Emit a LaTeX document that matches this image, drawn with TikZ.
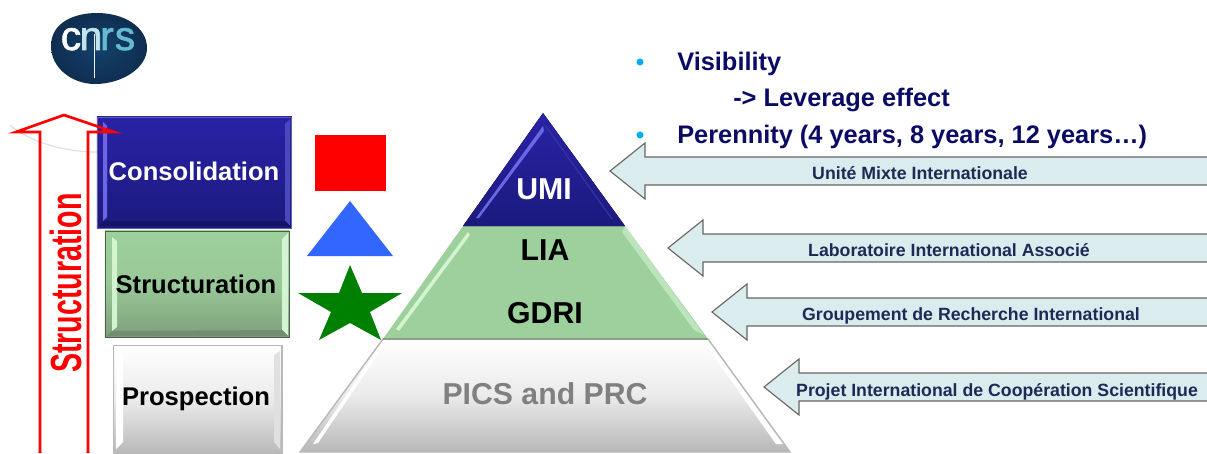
\documentclass[tikz,border=0pt]{standalone}
\usepackage{fontspec}
\setmainfont{Liberation Sans}
\newfontfamily\logofont[FakeBold=1.5]{Liberation Sans}
\usepackage{xcolor}
\usetikzlibrary{calc}
\definecolor{umiblue}{HTML}{2A22A6}
\definecolor{umidark}{HTML}{1B1A7E}
\definecolor{umilight}{HTML}{6A66E6}
\definecolor{liagreen}{HTML}{9DD09C}
\definecolor{liadark}{HTML}{7F9E7C}
\definecolor{lialight}{HTML}{D2F4D0}
\definecolor{picsgrey}{HTML}{B8B8B8}
\definecolor{pale}{HTML}{DAECEE}
\definecolor{navy}{HTML}{0B0B66}
\definecolor{slate}{HTML}{1E2A55}
\definecolor{bulletblue}{HTML}{00AEEF}
\definecolor{logoblue}{HTML}{14406B}
\definecolor{logodark}{HTML}{0F2E50}
\definecolor{logoteal}{HTML}{63BBD0}
\definecolor{trianglecol}{HTML}{3366FF}
\definecolor{starcol}{HTML}{008000}
\tikzset{
  bluebox/.style={draw=umidark!70!white,line width=0.6pt,top color=umiblue,bottom color=umidark},
  greenbox/.style={draw=liadark!60!black,line width=0.7pt,top color=liagreen,bottom color=liadark,middle color=liagreen!85!liadark},
  greybox/.style={draw=picsgrey,line width=1pt,top color=white,bottom color=picsgrey,middle color=white!92!black},
  banner/.style={draw=gray!80!black,line width=0.8pt,fill=pale},
  levellabel/.style={font=\bfseries\fontsize{18.2}{20}\selectfont,inner sep=0pt},
  pyrlabel/.style={font=\bfseries\fontsize{21.5}{24}\selectfont,inner sep=0pt},
  bannerlabel/.style={font=\bfseries\fontsize{12.6}{14}\selectfont,text=slate,inner sep=0pt},
  toplabel/.style={font=\bfseries\fontsize{18.05}{20}\selectfont,text=navy,inner sep=0pt,anchor=west},
  logoletter/.style={inner sep=0pt,anchor=base,font=\logofont\fontsize{29}{29}\selectfont},
  dotbullet/.style={circle,fill=bulletblue,inner sep=0pt,minimum size=5pt}
}
\begin{document}
\begin{tikzpicture}[line join=miter,x=0.025cm,y=-0.025cm]
\useasboundingbox (0,0) rectangle (1207,453);
\clip (0,0) rectangle (1207,453);
% logo
\path[inner color=logoblue,outer color=logodark]
  (51,46) .. controls (51,22) and (75,13) .. (97,13)
  .. controls (124,13) and (147,27) .. (147,48)
  .. controls (147,68) and (122,84) .. (95,84)
  .. controls (72,84) and (51,68) .. (51,46) -- cycle;
\node[logoletter,text=white] (logoc) at (71,50) {c};
\node[logoletter,text=white!60!logoteal] (logon) at (91,50) {n};
\node[logoletter,text=logoteal] (logor) at (107,50) {r};
\node[logoletter,text=logoteal] (logos) at (125,50) {s};
\draw[white!85!logoteal,line width=0.7pt] (94,34) -- (94,78);
% arc behind
\draw[gray!25,line width=0.8pt] (10,125) .. controls (30,143) and (70,153) .. (100,152);
% left boxes
\node[bluebox,minimum width=138.6pt,minimum height=79pt,inner sep=0pt,anchor=north west] (consol) at (96.5,116.5) {};
\node[greenbox,minimum width=131pt,minimum height=76pt,inner sep=0pt,anchor=north west] (struct) at (104.5,230.5) {};
\node[greybox,minimum width=120pt,minimum height=77.5pt,inner sep=0pt,anchor=north west] (prosp) at (112.5,344.5) {};
\fill[umilight] (103,122) -- (107,126) -- (107,217) -- (103,221) -- cycle;
\fill[umilight!60!umidark] (290,119) -- (285,124) -- (285,221) -- (290,226) -- cycle;
\fill[umidark!80!black] (99,226) -- (290,226) -- (285,221) -- (104,221) -- cycle;
\fill[lialight] (112,237) -- (117,241) -- (117,327) -- (112,331) -- cycle;
\fill[lialight] (288,233) -- (282,239) -- (282,330) -- (288,336) -- cycle;
\fill[liadark!90!black] (107,336) -- (288,336) -- (282,330) -- (112,331) -- cycle;
\fill[white] (116,351) -- (123,355) -- (123,442) -- (116,449) -- cycle;
\fill[white!88!black] (280,351) -- (274,355) -- (274,442) -- (280,449) -- cycle;
\node[levellabel,text=white] (consoltext) at (194,171) {Consolidation};
\node[levellabel,text=black] (structtext) at (196,284) {Structuration};
\node[levellabel,text=black] (prosptext) at (196,399) {Prospection};
% red arrow
\draw[red,line width=1.9pt] (40,453) -- (40,132) -- (16,132) -- (64,115) -- (114,132) -- (88,132) -- (88,453);
\node[rotate=90,xscale=0.656,red,inner sep=0pt,font=\bfseries\fontsize{31}{31}\selectfont] (structlabel) at (66,283) {Structuration};
% symbols
\fill[red] (315,135) rectangle (386,191);
\fill[trianglecol] (350,201) -- (393,256) -- (307,256) -- cycle;
\fill[starcol] (350,265) -- (362,293) -- (402,293) -- (370,312) -- (381,340) -- (350,323) -- (319,340) -- (331,312) -- (298,293) -- (339,293) -- cycle;
% pyramid
\draw[greybox] (383,339) -- (708,339) -- (790,452) -- (300,452) -- cycle;
\fill[white] (381,344) -- (385,344) -- (318,443) -- (313,444) -- cycle;
\fill[white] (705,344) -- (710,344) -- (783,444) -- (776,444) -- cycle;
\fill[liagreen] (463,226) -- (625,226) -- (708,339) -- (383,339) -- cycle;
\draw[gray!60!liagreen,line width=0.8pt] (383,339) -- (708,339);
\fill[lialight] (468,232) -- (470,235) -- (399,331) -- (396,329) -- cycle;
\fill[lialight!60!liagreen] (625,226) -- (704,335) -- (694,330) -- (622,232) -- cycle;
\fill[top color=umiblue,bottom color=umidark] (543,113) -- (625,226) -- (463,226) -- cycle;
\fill[umilight] (543,126) -- (544,131) -- (479,218) -- (476,218) -- cycle;
\draw[umidark!70!umilight,line width=1pt] (545,125) -- (612,219);
\node[pyrlabel,text=white] (umi) at (544,189) {UMI};
\node[pyrlabel,text=black] (lia) at (545,250) {LIA};
\node[pyrlabel,text=black] (gdri) at (545,313) {GDRI};
\node[pyrlabel,text=gray] (pics) at (545,394) {PICS and PRC};
% banners
\foreach \tipx/\midy/\textx/\texty/\bannertext in {
  610/171/920/173/{Unité Mixte Internationale},
  668/248/949/250/{Laboratoire International Associé},
  712/312/971/316/{Groupement de Recherche International},
  764/387/997/392/{Projet International de Coopération Scientifique}}{
  \draw[banner] (\tipx,\midy) -- ++(35,-28) -- ++(0,14) -- (1210,\midy-14) -- (1210,\midy+14) -- (\tipx+35,\midy+14) -- ++(0,14) -- cycle;
  \node[bannerlabel] at (\textx,\texty) {\bannertext};
}
% list
\node[dotbullet] (dotone) at (640,62) {};
\node[dotbullet] (dottwo) at (640,135) {};
\node[toplabel] (visib) at (677,64) {Visibility};
\node[toplabel] (lever) at (733,100) {-> Leverage effect};
\node[toplabel] (peren) at (677,137) {Perennity (4 years, 8 years, 12 years…)};
\end{tikzpicture}
\end{document}
